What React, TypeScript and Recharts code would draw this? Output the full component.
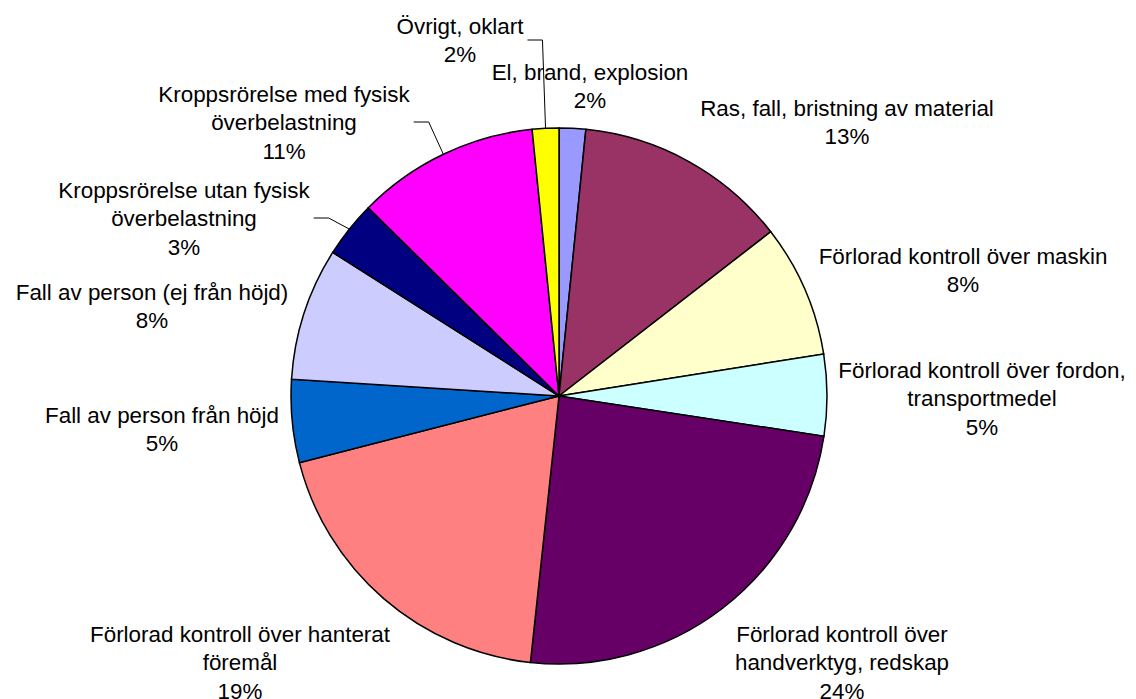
import React from 'react';
import { PieChart, Pie, Cell } from 'recharts';

// slices, clockwise from 12 o'clock
const categories = [
  'El, brand, explosion',
  'Ras, fall, bristning av material',
  'Förlorad kontroll över maskin',
  'Förlorad kontroll över fordon, transportmedel',
  'Förlorad kontroll över handverktyg, redskap',
  'Förlorad kontroll över hanterat föremål',
  'Fall av person från höjd',
  'Fall av person (ej från höjd)',
  'Kroppsrörelse utan fysisk överbelastning',
  'Kroppsrörelse med fysisk överbelastning',
  'Övrigt, oklart',
];

const shares = [1.6, 12.9, 8.0, 4.9, 24.3, 19.3, 5.0, 8.0, 3.4, 11.0, 1.6];

const colors = [
  '#9999FF', '#993366', '#FFFFCC', '#CCFFFF', '#660066', '#FF8080',
  '#0066CC', '#CCCCFF', '#000080', '#FF00FF', '#FFFF00',
];

// how each label wraps
const labelLines = [
  ['El, brand, explosion'],
  ['Ras, fall, bristning av material'],
  ['Förlorad kontroll över maskin'],
  ['Förlorad kontroll över fordon,', 'transportmedel'],
  ['Förlorad kontroll över', 'handverktyg, redskap'],
  ['Förlorad kontroll över hanterat', 'föremål'],
  ['Fall av person från höjd'],
  ['Fall av person (ej från höjd)'],
  ['Kroppsrörelse utan fysisk', 'överbelastning'],
  ['Kroppsrörelse med fysisk', 'överbelastning'],
  ['Övrigt, oklart'],
];

// label block centre, relative to the pie centre
const labelOffsets = [
  [31, -310], [288, -274], [404, -126], [423, 2], [283, 266], [-319, 266],
  [-397, 33], [-407, -90], [-375, -178], [-275, -274], [-99, -356],
];

const withLeader = [false, false, false, false, false, false, false, false, true, true, true];

const data = categories.map((name, i) => ({ name, value: shares[i] }));

const FONT = '"Liberation Sans", Arial, sans-serif';
const FONT_SIZE = 22.4;
const LINE_H = 28.5;

let ctx: CanvasRenderingContext2D | null = null;
const measure = (t: string) => {
  if (!ctx) ctx = document.createElement('canvas').getContext('2d');
  if (!ctx) return t.length * FONT_SIZE * 0.5;
  ctx.font = `${FONT_SIZE}px ${FONT}`;
  return ctx.measureText(t).width;
};

const renderLabel = (props: any) => {
  const { cx, cy, midAngle, outerRadius, percent, index } = props;
  const [dx, dy] = labelOffsets[index];
  const lines = [...labelLines[index], `${Math.round(percent * 100)}%`];
  const bx = cx + dx;
  const by = cy + dy;
  const top = by - ((lines.length - 1) * LINE_H) / 2;

  let leader = null;
  if (withLeader[index]) {
    const w = Math.max(...lines.map(measure));
    const sx = bx + w / 2 + 4;
    const rad = (-midAngle * Math.PI) / 180;
    const ex = cx + outerRadius * Math.cos(rad);
    const ey = cy + outerRadius * Math.sin(rad);
    leader = (
      <polyline
        points={`${sx},${by} ${sx + 15},${by} ${ex},${ey}`}
        fill="none"
        stroke="#000"
        strokeWidth={1}
      />
    );
  }

  return (
    <g key={`lbl-${index}`}>
      {leader}
      {lines.map((t, i) => (
        <text
          key={i}
          x={bx}
          y={top + i * LINE_H + 8}
          textAnchor="middle"
          fontSize={FONT_SIZE}
          fontFamily={FONT}
          fill="#000"
        >
          {t}
        </text>
      ))}
    </g>
  );
};

export default function App() {
  return (
    <div style={{ position: 'absolute', left: 0, top: 0, width: 1136, height: 699, background: '#fff' }}>
      <PieChart width={1136} height={699} margin={{ top: 0, right: 0, bottom: 0, left: 0 }}>
        <Pie
          data={data}
          dataKey="value"
          nameKey="name"
          cx={559}
          cy={396}
          outerRadius={268}
          startAngle={90}
          endAngle={-270}
          stroke="#000"
          strokeWidth={1.5}
          labelLine={false}
          label={renderLabel}
          isAnimationActive={false}
        >
          {data.map((d, i) => (
            <Cell key={d.name} fill={colors[i]} />
          ))}
        </Pie>
      </PieChart>
    </div>
  );
}
